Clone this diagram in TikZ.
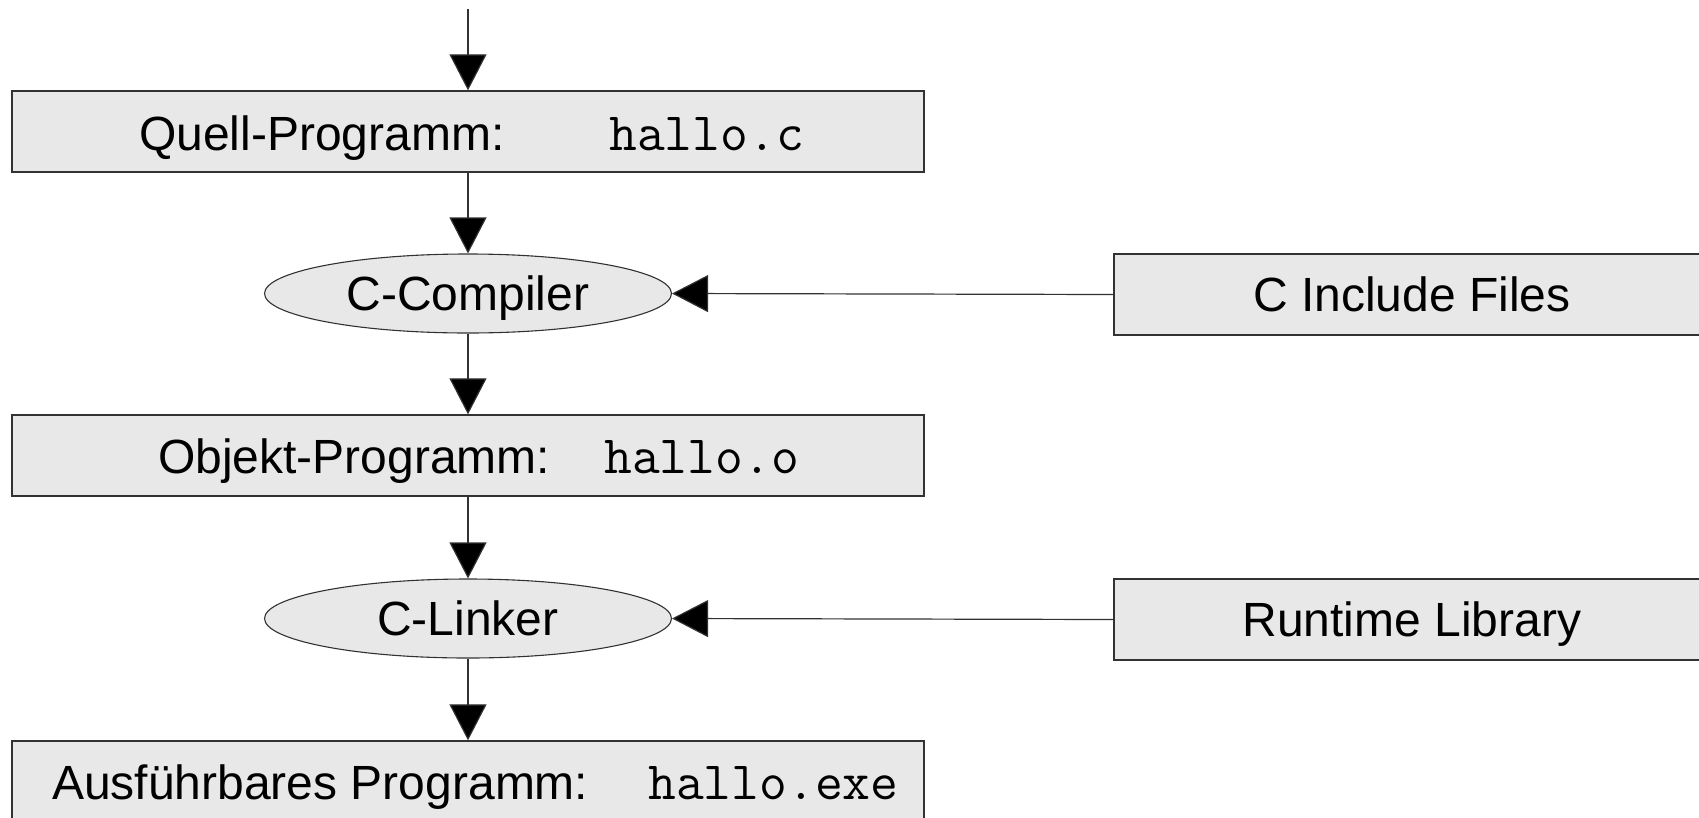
\documentclass[tikz,border=0pt]{standalone}
\usepackage{fontspec}
\setmainfont{Liberation Sans}
\usetikzlibrary{arrows.meta,shapes.geometric}
\definecolor{boxfill}{RGB}{232,232,232}
\definecolor{edgec}{RGB}{50,50,50}
\begin{document}
\begin{tikzpicture}[x=1pt,y=-1pt,
  mainbox/.style={draw=edgec,fill=boxfill,line width=1.3pt,minimum width=912pt,minimum height=81pt,inner sep=0pt},
  sidebox/.style={draw=edgec,fill=boxfill,line width=1.3pt,minimum width=596pt,minimum height=81pt,inner sep=0pt,text height=34pt,text depth=0pt,font=\fontsize{48}{58}\selectfont},
  tool/.style={ellipse,draw=edgec,fill=boxfill,line width=1.1pt,minimum width=407pt,minimum height=79pt,inner sep=0pt,text height=34pt,text depth=0pt,font=\fontsize{48}{58}\selectfont},
  lbl/.style={anchor=base west,inner sep=0pt,font=\fontsize{48}{58}\selectfont},
  code/.style={anchor=base west,inner sep=0pt,font=\ttfamily\fontsize{54}{60}\selectfont},
  flow/.style={draw=edgec,line width=1.2pt,-{Triangle[length=36pt,width=37pt,fill=black]}}
]
\useasboundingbox (0,0) rectangle (1699,817);
\node[mainbox] (src) at (468,131.5) {};
\node[lbl] (srcl) at (139,150) {Quell-Programm:};
\node[code] (srcc) at (609,150) {hallo.c};
\node[tool] (comp) at (468,293.5) {C-Compiler};
\node[sidebox] (incl) at (1412,294.5) {C Include Files};
\node[mainbox] (obj) at (468,455.5) {};
\node[lbl] (objl) at (158,473) {Objekt-Programm:};
\node[code] (objc) at (604,473) {hallo.o};
\node[tool] (link) at (468,618.5) {C-Linker};
\node[sidebox] (rt) at (1412,619.5) {Runtime Library};
\node[mainbox] (exe) at (468,781.5) {};
\node[lbl] (exel) at (52,799) {Ausführbares Programm:};
\node[code] (exec) at (648,799) {hallo.exe};
\coordinate (start) at (468,9);
\draw[flow] (start) -- (src.north);
\draw[flow] (src.south) -- (comp.north);
\draw[flow] (comp.south) -- (obj.north);
\draw[flow] (obj.south) -- (link.north);
\draw[flow] (link.south) -- (exe.north);
\draw[flow] (incl.west) -- (comp.east);
\draw[flow] (rt.west) -- (link.east);
\end{tikzpicture}
\end{document}
